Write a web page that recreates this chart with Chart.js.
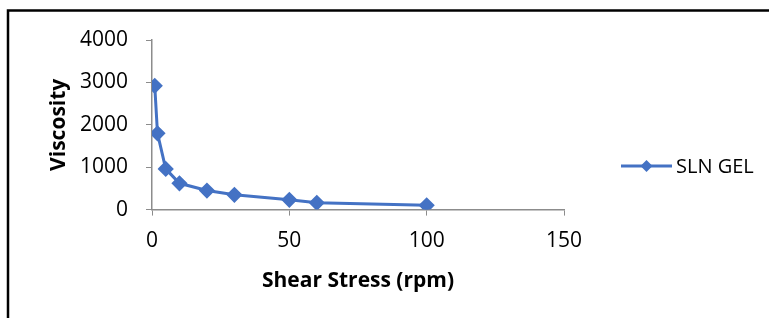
<!DOCTYPE html>
<html>
<head>
<meta charset="utf-8">
<script src="https://cdn.jsdelivr.net/npm/chart.js@4"></script>
<style>
  html, body { margin: 0; padding: 0; background: #fff; }
  #wrap { width: 769px; height: 318px; position: relative; }
</style>
</head>
<body>
<div id="wrap"><canvas id="grafico"></canvas></div>
<script>
// Dados
const taxaCisalhamento = [1, 2, 5, 10, 20, 30, 50, 60, 100];
const viscosidade = [2920, 1800, 960, 620, 450, 350, 230, 160, 100];
const nomeSerie = 'SLN GEL';
const tituloX = 'Shear Stress (rpm)';
const tituloY = 'Viscosity';

const corLinha = '#4472C4';
const fonte = "'Open Sans', 'Liberation Sans', sans-serif";

// Moldura (só topo e esquerda visíveis) + legenda à direita
const molduraELegenda = {
    id: 'molduraELegenda',
    afterDraw(chart) {
        const ctx = chart.ctx;
        ctx.save();
        ctx.strokeStyle = '#000';
        ctx.lineWidth = 2.5;
        ctx.beginPath();
        ctx.moveTo(8, 318);
        ctx.lineTo(8, 10.5);
        ctx.lineTo(769, 10.5);
        ctx.stroke();

        // legenda
        const y = 166;
        const x0 = 621, x1 = 672;
        ctx.strokeStyle = corLinha;
        ctx.lineWidth = 3;
        ctx.beginPath();
        ctx.moveTo(x0, y);
        ctx.lineTo(x1, y);
        ctx.stroke();
        ctx.fillStyle = corLinha;
        const cx = (x0 + x1) / 2, r = 6;
        ctx.beginPath();
        ctx.moveTo(cx, y - r);
        ctx.lineTo(cx + r, y);
        ctx.lineTo(cx, y + r);
        ctx.lineTo(cx - r, y);
        ctx.closePath();
        ctx.fill();
        ctx.fillStyle = '#000';
        ctx.font = '20px ' + fonte;
        ctx.textBaseline = 'middle';
        ctx.fillText(nomeSerie, 676, y + 1);
        ctx.restore();
    }
};

const ctx = document.getElementById('grafico').getContext('2d');
const grafico = new Chart(ctx, {
    type: 'line',
    data: {
        datasets: [{
            label: nomeSerie,
            data: taxaCisalhamento.map((x, i) => ({ x: x, y: viscosidade[i] })),
            borderColor: corLinha,
            backgroundColor: corLinha,
            borderWidth: 3,
            pointStyle: 'rectRot',
            pointRadius: 6,
            pointHoverRadius: 6,
            tension: 0
        }]
    },
    options: {
        responsive: true,
        maintainAspectRatio: false,
        animation: false,
        layout: { padding: { left: 42, right: 205, top: 40, bottom: 24 } },
        plugins: {
            legend: { display: false },
            tooltip: { enabled: false }
        },
        scales: {
            x: {
                type: 'linear',
                min: 0,
                max: 150,
                ticks: { stepSize: 50, color: '#000', font: { family: fonte, size: 21 }, padding: 13 },
                grid: { drawOnChartArea: false, drawTicks: true, tickLength: 6, color: '#8c8c8c' },
                border: { color: '#8c8c8c', width: 1.5 },
                title: { display: true, text: tituloX, color: '#000', font: { family: fonte, size: 21, weight: 'bold' }, padding: { top: 2, bottom: 0 } }
            },
            y: {
                min: 0,
                max: 4000,
                afterFit: s => { s.width = 110; },
                ticks: { stepSize: 1000, color: '#000', font: { family: fonte, size: 21 }, padding: 18, callback: v => String(v) },
                grid: { drawOnChartArea: false, drawTicks: true, tickLength: 6, color: '#8c8c8c' },
                border: { color: '#8c8c8c', width: 1.5 },
                title: { display: true, text: tituloY, color: '#000', font: { family: fonte, size: 21, weight: 'bold' }, padding: { top: 4, bottom: 4 } }
            }
        }
    },
    plugins: [molduraELegenda]
});
</script>
</body>
</html>
